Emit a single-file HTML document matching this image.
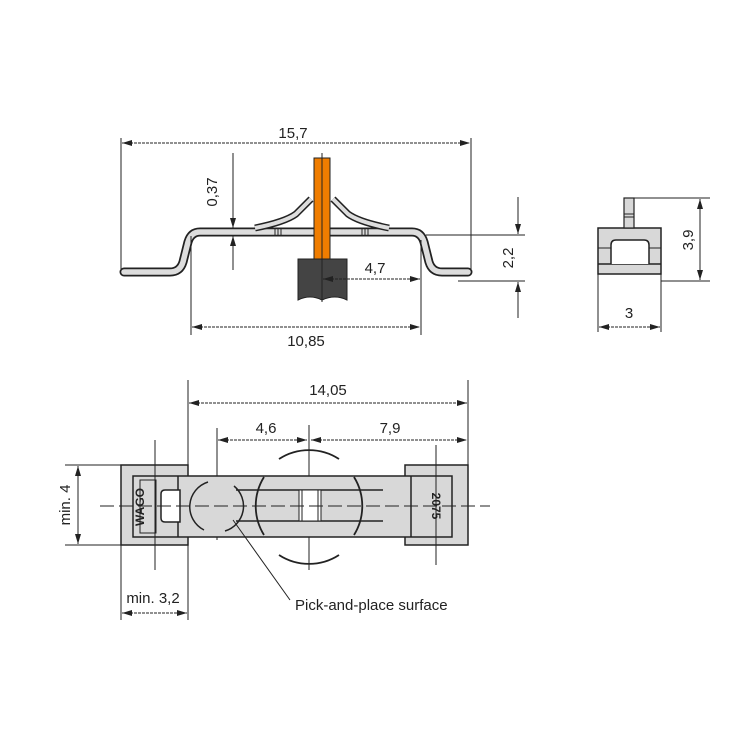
<!DOCTYPE html>
<html><head><style>body{margin:0;background:#fff}svg{display:block}text{font-family:"Liberation Sans",sans-serif;fill:#222}</style></head>
<body>
<svg width="750" height="750" viewBox="0 0 750 750" xmlns="http://www.w3.org/2000/svg">
<defs>
<marker id="a" viewBox="0 0 10 6" refX="10" refY="3" markerWidth="10" markerHeight="6" orient="auto-start-reverse" markerUnits="userSpaceOnUse"><path d="M0,0 L10,3 L0,6z" fill="#222"/></marker>
</defs>
<g stroke="#222" fill="none" stroke-width="1">
<!-- TOP VIEW -->
<line x1="121" y1="138" x2="121" y2="275"/><line x1="471" y1="138" x2="471" y2="275"/>
<line x1="122" y1="143" x2="470" y2="143" stroke-dasharray="3,1" marker-start="url(#a)" marker-end="url(#a)"/>
<path d="M124,272 L170,272 Q180,272 183,262 L188,242 Q191,232 200,232 L412,232 Q421,232 424,242 L429,262 Q432,272 442,272 L468,272" stroke="#222" stroke-width="9" stroke-linecap="round"/>
<path d="M124,272 L170,272 Q180,272 183,262 L188,242 Q191,232 200,232 L412,232 Q421,232 424,242 L429,262 Q432,272 442,272 L468,272" stroke="#ddd" stroke-width="5.5" stroke-linecap="round"/>
<path d="M255,228 Q285,222 296,214 L311,199" stroke="#222" stroke-width="7"/>
<path d="M255,228 Q285,222 296,214 L311,199" stroke="#ddd" stroke-width="4"/>
<path d="M389,228 Q359,222 348,214 L333,199" stroke="#222" stroke-width="7"/>
<path d="M389,228 Q359,222 348,214 L333,199" stroke="#ddd" stroke-width="4"/>
<line x1="275" y1="229" x2="275" y2="235"/><line x1="278" y1="229" x2="278" y2="235"/><line x1="281" y1="229" x2="281" y2="235"/>
<line x1="362" y1="229" x2="362" y2="235"/><line x1="365" y1="229" x2="365" y2="235"/><line x1="368" y1="229" x2="368" y2="235"/>
<rect x="314" y="158" width="16" height="104" fill="#f07d00" stroke="#222"/>
<path d="M298,259 L347,259 L347,300 Q335,294 322,300 Q310,294 298,300 Z" fill="#444" stroke="#222"/>
<line x1="322" y1="153" x2="322" y2="302"/>
<line x1="233" y1="153" x2="233" y2="228" marker-end="url(#a)"/>
<line x1="233" y1="270" x2="233" y2="236" marker-end="url(#a)"/>
<line x1="323" y1="279" x2="420" y2="279" stroke-dasharray="3,1" marker-start="url(#a)" marker-end="url(#a)"/>
<line x1="191" y1="236" x2="191" y2="335"/><line x1="421" y1="240" x2="421" y2="335"/>
<line x1="192" y1="327" x2="420" y2="327" stroke-dasharray="3,1" marker-start="url(#a)" marker-end="url(#a)"/>
<line x1="426" y1="235" x2="525" y2="235"/><line x1="458" y1="281" x2="525" y2="281"/>
<line x1="518" y1="197" x2="518" y2="234" marker-end="url(#a)"/>
<line x1="518" y1="318" x2="518" y2="282" marker-end="url(#a)"/>
<!-- SIDE VIEW -->
<rect x="598" y="228" width="63" height="46" fill="#d8d8d8" stroke="#222" stroke-width="1.5"/>
<line x1="598" y1="264" x2="661" y2="264" stroke-width="1.5"/>
<line x1="598" y1="248" x2="611" y2="248"/><line x1="649" y1="248" x2="661" y2="248"/>
<path d="M611,264 L611,245 Q611,240 616,240 L644,240 Q649,240 649,245 L649,264" fill="#fff" stroke-width="1.5"/>
<rect x="624" y="198" width="10" height="30" fill="#d8d8d8" stroke-width="1.2"/>
<line x1="624" y1="214" x2="634" y2="214"/><line x1="624" y1="217" x2="634" y2="217"/>
<line x1="634" y1="198" x2="710" y2="198"/><line x1="661" y1="281" x2="710" y2="281"/>
<line x1="700" y1="199" x2="700" y2="280" marker-start="url(#a)" marker-end="url(#a)"/>
<line x1="598" y1="274" x2="598" y2="332"/><line x1="661" y1="274" x2="661" y2="332"/>
<line x1="599" y1="327" x2="660" y2="327" stroke-dasharray="3,1" marker-start="url(#a)" marker-end="url(#a)"/>
<!-- BOTTOM VIEW -->
<line x1="188" y1="380" x2="188" y2="620"/><line x1="468" y1="380" x2="468" y2="485"/>
<line x1="189" y1="403" x2="467" y2="403" stroke-dasharray="3,1" marker-start="url(#a)" marker-end="url(#a)"/>
<line x1="217" y1="428" x2="217" y2="540"/><line x1="309" y1="425" x2="309" y2="570"/>
<line x1="218" y1="440" x2="307" y2="440" stroke-dasharray="3,1" marker-start="url(#a)" marker-end="url(#a)"/>
<line x1="311" y1="440" x2="467" y2="440" stroke-dasharray="3,1" marker-start="url(#a)" marker-end="url(#a)"/>
<rect x="121" y="465" width="67" height="80" fill="#d8d8d8" stroke-width="1.5"/>
<rect x="405" y="465" width="63" height="80" fill="#d8d8d8" stroke-width="1.5"/>
<rect x="133" y="476" width="319" height="61" fill="#d8d8d8" stroke-width="1.5"/>
<line x1="178" y1="476" x2="178" y2="537" stroke-width="1.5"/>
<line x1="411" y1="476" x2="411" y2="537" stroke-width="1.5"/>
<rect x="140" y="480" width="16" height="53" fill="#d8d8d8" stroke-width="1"/>
<path d="M165,490 L180,490 L180,522 L165,522 Q161,522 161,518 L161,494 Q161,490 165,490 Z" fill="#fff" stroke-width="1.5"/>
<path d="M208,482 A26,26 0 0 0 204,530 M225,531 A26,26 0 0 0 234,486" stroke-width="1.5"/>
<path d="M264,477 A55,55 0 0 0 264,535 M354,477 A55,55 0 0 1 354,535" stroke-width="1.8"/>
<path d="M279,459 A55,55 0 0 1 339,459 M279,555 A55,55 0 0 0 339,555" stroke-width="1.8"/>
<line x1="236" y1="490" x2="383" y2="490" stroke-width="1.5"/><line x1="236" y1="521" x2="383" y2="521" stroke-width="1.5"/>
<rect x="299" y="490" width="22" height="31" fill="#fff" stroke-width="1"/>
<line x1="302" y1="490" x2="302" y2="521"/><line x1="318" y1="490" x2="318" y2="521"/>
<line x1="100" y1="506" x2="490" y2="506" stroke-dasharray="14,5"/>
<line x1="155" y1="440" x2="155" y2="570"/><line x1="436" y1="445" x2="436" y2="565"/>
<line x1="65" y1="465" x2="121" y2="465"/><line x1="65" y1="545" x2="121" y2="545"/>
<line x1="78" y1="466" x2="78" y2="544" marker-start="url(#a)" marker-end="url(#a)"/>
<line x1="121" y1="545" x2="121" y2="620"/>
<line x1="122" y1="613" x2="187" y2="613" stroke-dasharray="3,1" marker-start="url(#a)" marker-end="url(#a)"/>
<line x1="233" y1="520" x2="290" y2="600"/>
</g>
<text x="293" y="138" font-size="15" text-anchor="middle">15,7</text>
<text transform="translate(217,192) rotate(-90)" font-size="15" text-anchor="middle">0,37</text>
<text x="375" y="273" font-size="15" text-anchor="middle">4,7</text>
<text x="306" y="346" font-size="15" text-anchor="middle">10,85</text>
<text transform="translate(513,258) rotate(-90)" font-size="15" text-anchor="middle">2,2</text>
<text transform="translate(693,240) rotate(-90)" font-size="15" text-anchor="middle">3,9</text>
<text x="629" y="318" font-size="15" text-anchor="middle">3</text>
<text x="328" y="395" font-size="15" text-anchor="middle">14,05</text>
<text x="266" y="433" font-size="15" text-anchor="middle">4,6</text>
<text x="390" y="433" font-size="15" text-anchor="middle">7,9</text>
<text transform="translate(70,505) rotate(-90)" font-size="15" text-anchor="middle">min. 4</text>
<text x="153" y="603" font-size="15" text-anchor="middle">min. 3,2</text>
<text x="295" y="610" font-size="15">Pick-and-place surface</text>
<text transform="translate(144,507) rotate(-90)" font-size="12" font-weight="bold" text-anchor="middle">WAGO</text>
<text transform="translate(432,506) rotate(90)" font-size="12" font-weight="bold" text-anchor="middle">2075</text>
</svg>
</body></html>
